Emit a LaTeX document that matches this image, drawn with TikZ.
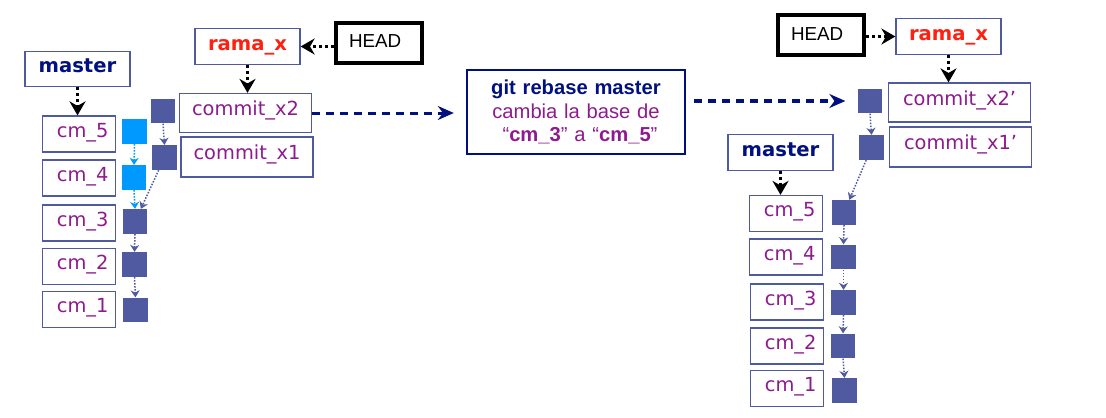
\documentclass[tikz,border=0pt]{standalone}
\usepackage{fontspec}
\newfontfamily\verdfont{DejaVu Sans}
\newfontfamily\arialfont{Liberation Sans}
\usepackage{tikz}
\usetikzlibrary{arrows.meta, positioning}

\definecolor{slate}{RGB}{80,90,160}
\definecolor{cmpurple}{RGB}{142,27,142}
\definecolor{ramared}{RGB}{255,32,16}
\definecolor{navy}{RGB}{0,16,128}
\definecolor{skyblue}{RGB}{0,153,255}

\tikzset{
  box/.style={draw=slate, line width=0.6pt, inner sep=0pt, text=cmpurple,
    font=\verdfont\fontsize{9.7}{11}\selectfont},
  cmbox/.style={box, minimum width=36.2pt, text width=29.5pt, align=right,
    text height=10.5pt, text depth=7.5pt},
  commitbox/.style={box, minimum width=66pt, text height=10.75pt, text depth=8.75pt},
  branch/.style={box, minimum width=52.5pt, text height=10.75pt, text depth=7pt,
    font=\verdfont\bfseries\fontsize{9.8}{11}\selectfont},
  headbox/.style={draw, line width=2pt, inner xsep=6.5pt, inner ysep=0pt,
    text width=30pt, text height=12.5pt, text depth=7.5pt,
    font=\arialfont\fontsize{9.4}{11}\selectfont},
  gitbox/.style={draw=navy, line width=1.2pt, inner sep=0pt, minimum width=109pt,
    text width=105pt, align=center, text height=12.5pt, text depth=29.5pt,
    text=cmpurple, font=\arialfont\fontsize{10.1}{11.75}\selectfont},
  sq/.style={fill=slate, minimum size=12.25pt, inner sep=0pt},
  newsq/.style={sq, fill=skyblue},
  ref/.style={-{Stealth[length=7pt,width=8pt]}, line width=1.5pt,
    dash pattern=on 1.5pt off 1.5pt},
  link/.style={-{Stealth[length=3.5pt,width=4.5pt]}, slate, line width=0.75pt,
    dash pattern=on 0.75pt off 0.75pt},
  jump/.style={-{Stealth[length=8pt,width=7pt]}, navy, line width=1.5pt,
    dash pattern=on 4pt off 3pt}
}

\begin{document}
\begin{tikzpicture}[x=0.5pt, y=-0.5pt]
    \useasboundingbox (0,0) rectangle (1106,417);

    % before the rebase
    \node[branch, text=navy] (mL) at (77.5,69) {master};
    \node[cmbox] (cL5) at (79,134) {cm\_5};
    \node[cmbox] (cL4) at (79,178) {cm\_4};
    \node[cmbox] (cL3) at (79,223) {cm\_3};
    \node[cmbox] (cL2) at (79,266.5) {cm\_2};
    \node[cmbox] (cL1) at (79,309.5) {cm\_1};

    \node[newsq] (sL5) at (134.5,131.5) {};
    \node[newsq] (sL4) at (134,177.5) {};
    \node[sq] (sL3) at (135,221.5) {};
    \node[sq] (sL2) at (134.5,264.5) {};
    \node[sq] (sL1) at (135.5,310) {};
    \node[sq] (sLx2) at (163,111) {};
    \node[sq] (sLx1) at (164.5,157.5) {};

    \node[commitbox] (xL2) at (245.5,113) {commit\_x2};
    \node[commitbox, text height=11pt, text depth=9pt] (xL1) at (247,157) {commit\_x1};
    \node[branch, text=ramared] (rL) at (247.5,46.5) {rama\_x};
    \node[headbox] (hL) at (379,43) {HEAD};

    \draw[ref] (hL.west |- rL) -- (rL.east);
    \draw[ref] (rL.south) -- (rL.south |- xL2.north);
    \draw[ref] (mL.south) -- (mL.south |- cL5.north);

    \draw[link, skyblue] (sL5.south) -- (sL4.north);
    \draw[link, skyblue] (sL4.south) -- (sL3.north);
    \draw[link] (sL3.south) -- (sL2.north);
    \draw[link] (sL2.south) -- (sL1.north);
    \draw[link] (sLx2.south) -- (sLx1.north);
    \draw[link] (sLx1) -- (sL3);

    % the command
    \node[gitbox] (git) at (576,112)
        {{\color{navy}\bfseries git rebase master}\\
         cambia la base de\\
         \hspace*{4pt}“\textbf{cm\_3}” a “\textbf{cm\_5}”};

    % after the rebase
    \node[headbox] (hR) at (821,35.5) {HEAD};
    \node[branch, text=ramared] (rR) at (948.5,36.5) {rama\_x};
    \node[commitbox, minimum width=71pt, text height=11pt, text depth=8.5pt] (xR2) at (959.5,102.5) {commit\_x2’};
    \node[commitbox, minimum width=71pt, text height=11pt, text depth=9pt] (xR1) at (960.5,147) {commit\_x1’};
    \node[sq] (sRx2) at (870,101) {};
    \node[sq] (sRx1) at (871.5,147.5) {};

    \node[branch, text=navy] (mR) at (780.5,152.5) {master};
    \node[cmbox] (cR5) at (786,213.5) {cm\_5};
    \node[cmbox] (cR4) at (786,257) {cm\_4};
    \node[cmbox] (cR3) at (787,302) {cm\_3};
    \node[cmbox] (cR2) at (787,346) {cm\_2};
    \node[cmbox] (cR1) at (787,388.5) {cm\_1};

    \node[sq] (sR5) at (844,212.5) {};
    \node[sq] (sR4) at (843.5,257) {};
    \node[sq] (sR3) at (843.5,302.5) {};
    \node[sq] (sR2) at (843,346) {};
    \node[sq] (sR1) at (844.5,390.5) {};

    \draw[jump, shorten >=6pt] (xL2.east) -- (xL2.east -| git.west);
    \draw[jump, shorten <=4pt, shorten >=6pt] (git.east |- sRx2) -- (sRx2.west);

    \draw[ref] (hR.east |- rR) -- (rR.west);
    \draw[ref] (rR.south) -- (rR.south |- xR2.north);
    \draw[ref] (mR.south) -- (mR.south |- cR5.north);

    \draw[link] (sRx2.south) -- (sRx1.north);
    \draw[link] (sRx1) -- (sR5);
    \draw[link] (sR5.south) -- (sR4.north);
    \draw[link] (sR4.south) -- (sR3.north);
    \draw[link] (sR3.south) -- (sR2.north);
    \draw[link] (sR2.south) -- (sR1.north);
\end{tikzpicture}
\end{document}
